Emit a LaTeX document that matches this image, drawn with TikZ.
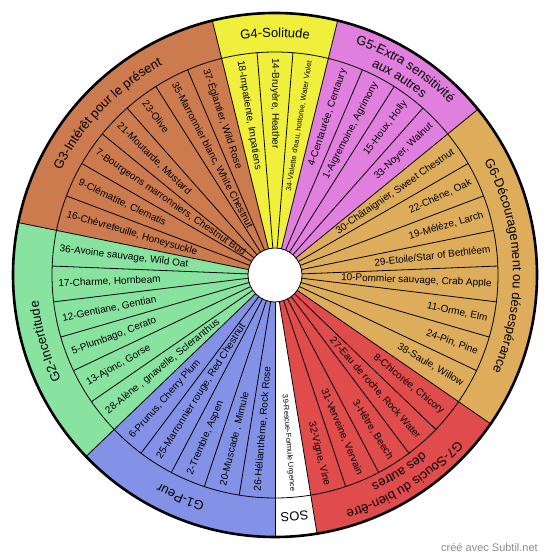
\documentclass[tikz,border=0pt]{standalone}
\usepackage{fontspec}
\setmainfont{Liberation Sans}
\usetikzlibrary{decorations.text}
\definecolor{cGone}{HTML}{8391E6}
\definecolor{cGtwo}{HTML}{88E2A0}
\definecolor{cGthree}{HTML}{CB7B4E}
\definecolor{cGfour}{HTML}{F0F03C}
\definecolor{cGfive}{HTML}{E07FDD}
\definecolor{cGsix}{HTML}{DDAD5B}
\definecolor{cGseven}{HTML}{E04B4B}
\newcommand\grpfont{\fontsize{13}{15}\selectfont}
\begin{document}
\begin{tikzpicture}[x=1pt,y=1pt,
  itemL/.style={anchor=west, inner sep=0pt, font=\fontsize{10}{12}\selectfont},
  itemR/.style={anchor=east, inner sep=0pt, font=\fontsize{10}{12}\selectfont},
  tiny/.style={font=\fontsize{7.5}{9}\selectfont},
  radial/.style={line width=0.8pt, black},
  grplabel/.style={decorate, decoration={text along path, text align=center, text={|\grpfont|#1}}}
]
\useasboundingbox (0,0) rectangle (550,559);
\begin{scope}[shift={(275,284)}]
% sectors
\fill[cGthree] (0,0) -- (168.462:262) arc[start angle=168.462, end angle=103.846, radius=262] -- cycle;
\fill[cGfour]  (0,0) -- (103.846:262) arc[start angle=103.846, end angle=76.154, radius=262] -- cycle;
\fill[cGfive]  (0,0) -- (76.154:262) arc[start angle=76.154, end angle=39.231, radius=262] -- cycle;
\fill[cGsix]   (0,0) -- (39.231:262) arc[start angle=39.231, end angle=-34.615, radius=262] -- cycle;
\fill[cGseven] (0,0) -- (-34.615:262) arc[start angle=-34.615, end angle=-80.769, radius=262] -- cycle;
\fill[white]   (0,0) -- (-80.769:262) arc[start angle=-80.769, end angle=-90, radius=262] -- cycle;
\fill[cGone]   (0,0) -- (-90:262) arc[start angle=-90, end angle=-136.154, radius=262] -- cycle;
\fill[cGtwo]   (0,0) -- (-136.154:262) arc[start angle=-136.154, end angle=-191.538, radius=262] -- cycle;
% radial separators
\foreach \k in {0,...,38}
  \draw[radial] ({103.846-\k*9.230769}:20) -- ({103.846-\k*9.230769}:223);
\foreach \k in {0,3,7,15,20,21,26,32}
  \draw[radial] ({103.846-\k*9.230769}:223) -- ({103.846-\k*9.230769}:262);
\draw[radial] (0,0) circle[radius=223];
\filldraw[fill=white, draw=black, line width=0.8pt] (0,0) circle[radius=27];
\draw[line width=2.6pt] (0,0) circle[radius=262];
% item labels
\node[itemL, rotate=-80.77] (i18) at (99.23:217) {18-Impatiente, Impatiens};
\node[itemL, rotate=-90] (i14) at (90:217) {14-Bruyère, Heather};
\node[itemR, tiny, rotate=80.77] (i34) at (80.77:217) {34-Violette d'eau, hottonie, Water Violet};
\node[itemR, rotate=71.54] (i4) at (71.54:217) {4-Centaurée, Centaury};
\node[itemR, rotate=62.31] (i1) at (62.31:217) {1-Aigremoine, Agrimony};
\node[itemR, rotate=53.08] (i15) at (53.08:217) {15-Houx, Holly};
\node[itemR, rotate=43.85] (i33) at (43.85:217) {33-Noyer, Walnut};
\node[itemR, rotate=34.62] (i30) at (34.62:217) {30-Châtaignier, Sweet Chestnut};
\node[itemR, rotate=25.38] (i22) at (25.38:217) {22-Chêne, Oak};
\node[itemR, rotate=16.15] (i19) at (16.15:217) {19-Mélèze, Larch};
\node[itemR, rotate=6.92] (i29) at (6.92:217) {29-Etoile/Star of Bethléem};
\node[itemR, rotate=-2.31] (i10) at (-2.31:217) {10-Pommier sauvage, Crab Apple};
\node[itemR, rotate=-11.54] (i11) at (-11.54:217) {11-Orme, Elm};
\node[itemR, rotate=-20.77] (i24) at (-20.77:217) {24-Pin, Pine};
\node[itemR, rotate=-30] (i38) at (-30:217) {38-Saule, Willow};
\node[itemR, rotate=-39.23] (i8) at (-39.23:217) {8-Chicorée, Chicory};
\node[itemR, rotate=-48.46] (i27) at (-48.46:217) {27-Eau de roche, Rock Water};
\node[itemR, rotate=-57.69] (i3) at (-57.69:217) {3-Hêtre, Beech};
\node[itemR, rotate=-66.92] (i31) at (-66.92:217) {31-Verveine, Vervain};
\node[itemR, rotate=-76.15] (i32) at (-76.15:217) {32-Vigne, Vine};
\node[itemR, tiny, rotate=-85.38] (i39) at (-85.38:217) {39-Rescue-Formule Urgence};
\node[itemL, rotate=85.38] (i26) at (-94.62:217) {26-Hélianthème, Rock Rose};
\node[itemL, rotate=76.15] (i20) at (-103.85:217) {20-Muscade , Mimule};
\node[itemL, rotate=66.92] (i2) at (-113.08:217) {2-Tremble, Aspen};
\node[itemL, rotate=57.69] (i25) at (-122.31:217) {25-Marronnier rouge, Red Chestnut};
\node[itemL, rotate=48.46] (i6) at (-131.54:217) {6-Prunus, Cherry Plum};
\node[itemL, rotate=39.23] (i28) at (-140.77:217) {28-Alène , gnavelle, Scleranthus};
\node[itemL, rotate=30] (i13) at (-150:217) {13-Ajonc, Gorse};
\node[itemL, rotate=20.77] (i5) at (-159.23:217) {5-Plumbago, Cerato};
\node[itemL, rotate=11.54] (i12) at (-168.46:217) {12-Gentiane, Gentian};
\node[itemL, rotate=2.31] (i17) at (-177.69:217) {17-Charme, Hornbeam};
\node[itemL, rotate=-6.92] (i36) at (173.08:217) {36-Avoine sauvage, Wild Oat};
\node[itemL, rotate=-16.15] (i16) at (163.85:217) {16-Chèvrefeuille, Honeysuckle};
\node[itemL, rotate=-25.38] (i9) at (154.62:217) {9-Clématite, Clematis};
\node[itemL, rotate=-34.62] (i7) at (145.38:217) {7-Bourgeons marronniers, Chestnut Bud};
\node[itemL, rotate=-43.85] (i21) at (136.15:217) {21-Moutarde, Mustard};
\node[itemL, rotate=-53.08] (i23) at (126.92:217) {23-Olive};
\node[itemL, rotate=-62.31] (i35) at (117.69:217) {35-Marronnier blanc, White Chestnut};
\node[itemL, rotate=-71.54] (i37) at (108.46:217) {37-Églantier, Wild Rose};
% group labels (curved, clockwise)
\path[grplabel={G3-Intérêt pour le présent}] (168.462:238) arc[start angle=168.462, end angle=103.846, radius=238];
\path[grplabel={G4-Solitude}] (103.846:238) arc[start angle=103.846, end angle=76.154, radius=238];
\path[grplabel={G5-Extra sensitivité}] (76.154:245) arc[start angle=76.154, end angle=39.231, radius=245];
\path[grplabel={aux autres}] (76.154:230) arc[start angle=76.154, end angle=39.231, radius=230];
\path[grplabel={G6-Découragement ou désespérance}] (39.231:238) arc[start angle=39.231, end angle=-34.615, radius=238];
\path[grplabel={G7-Soucis du bien-être}] (-34.615:246) arc[start angle=-34.615, end angle=-80.769, radius=246];
\path[grplabel={des autres}] (-34.615:230) arc[start angle=-34.615, end angle=-80.769, radius=230];
\path[grplabel={SOS}] (-80.769:238) arc[start angle=-80.769, end angle=-90, radius=238];
\path[grplabel={G1-Peur}] (-90:238) arc[start angle=-90, end angle=-136.154, radius=238];
\path[grplabel={G2-Incertitude}] (-136.154:238) arc[start angle=-136.154, end angle=-191.538, radius=238];
\end{scope}
\node[anchor=east, inner sep=0pt, text=black!45, font=\fontsize{11}{13}\selectfont] (credit) at (538,11) {créé avec Subtil.net};
\end{tikzpicture}
\end{document}
